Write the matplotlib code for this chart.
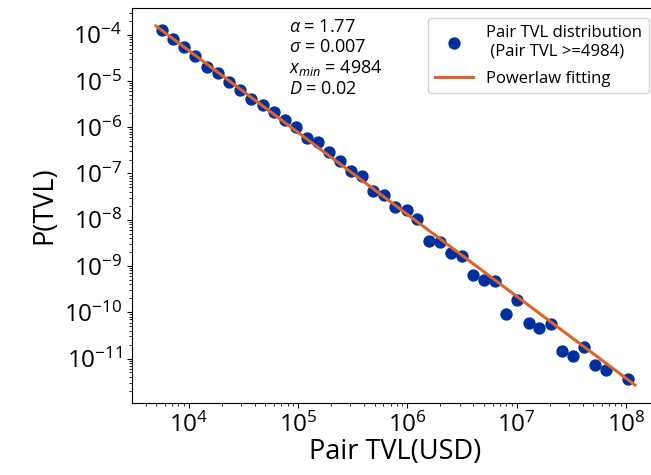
import numpy as np
import matplotlib
matplotlib.use("Agg")
import matplotlib.pyplot as plt

plt.rcParams['font.family'] = ['Open Sans', 'DejaVu Sans']
plt.rcParams['mathtext.fontset'] = 'custom'
plt.rcParams['mathtext.rm'] = 'Open Sans'
plt.rcParams['mathtext.it'] = 'Open Sans:italic'
plt.rcParams['mathtext.bf'] = 'Open Sans:bold'

# Binned PDF points (log10 of TVL, log10 of probability)
log_tvl = [3.753, 3.857, 3.957, 4.058, 4.162, 4.262, 4.363, 4.466, 4.566, 4.673,
           4.774, 4.877, 4.977, 5.078, 5.181, 5.281, 5.382, 5.482, 5.586, 5.687,
           5.787, 5.890, 5.991, 6.091, 6.195, 6.295, 6.399, 6.500, 6.600, 6.703,
           6.804, 6.904, 7.005, 7.108, 7.208, 7.312, 7.413, 7.513, 7.616, 7.717,
           7.817, 8.021]
log_p = [-3.892, -4.087, -4.275, -4.469, -4.707, -4.828, -5.032, -5.205, -5.384, -5.529,
         -5.672, -5.838, -6.000, -6.234, -6.320, -6.545, -6.725, -6.941, -7.064, -7.389,
         -7.460, -7.720, -7.800, -7.990, -8.455, -8.477, -8.715, -8.779, -9.184, -9.292,
         -9.327, -10.034, -9.742, -10.235, -10.337, -10.256, -10.834, -10.942, -10.741, -11.143,
         -11.245, -11.446]

alpha = 1.77
sigma = 0.007
xmin = 4984
xmax = 1.21e8
D = 0.02

tvl = 10 ** np.array(log_tvl)
p = 10 ** np.array(log_p)

fit_x = np.array([xmin, xmax])
fit_y = (alpha - 1) / xmin * (fit_x / xmin) ** (-alpha)

fig = plt.figure(figsize=(6.51, 4.75), dpi=100)
ax = fig.add_axes([132 / 651, 1 - 403 / 475, (659 - 132) / 651, (403 - 8) / 475])

ax.scatter(tvl, p, s=62, color='#0030a0', zorder=2,
           label='Pair TVL distribution\n (Pair TVL >=4984)')
ax.plot(fit_x, fit_y, color='#dd6428', lw=2.2, zorder=3, label='Powerlaw fitting')
ax.set_xscale('log')
ax.set_yscale('log')

ax.set_xlabel('Pair TVL(USD)', fontsize=19.5, labelpad=0)
ax.set_ylabel('P(TVL)', fontsize=19.5, labelpad=4)
ax.tick_params(axis='both', which='major', labelsize=17.5)

txt = (r'$\alpha$ = %.2f' % alpha + '\n' + r'$\sigma$ = %.3f' % sigma + '\n'
       + r'$x_{min}$ = %d' % xmin + '\n' + r'$D$ = %.2f' % D)
ax.text(0.298, 0.975, txt, transform=ax.transAxes, fontsize=13, va='top', ha='left',
        linespacing=1.15)

ax.legend(loc='upper right', fontsize=12, borderaxespad=0.6, handlelength=2.3,
          labelspacing=0.7)

fig.savefig('out.png', dpi=100)
